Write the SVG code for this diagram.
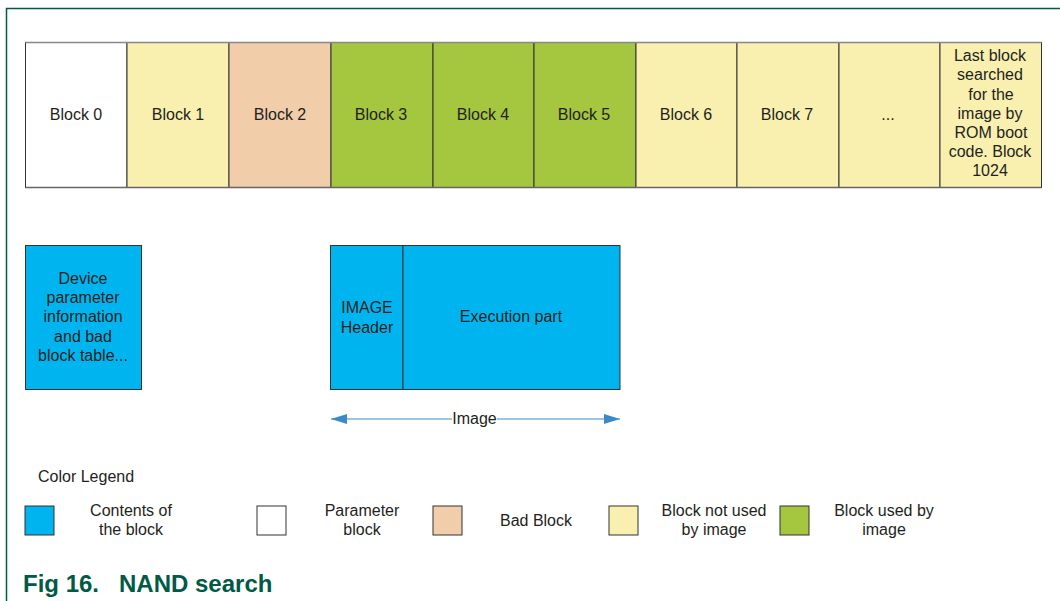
<svg xmlns="http://www.w3.org/2000/svg" width="1060" height="601" viewBox="0 0 1060 601">
<style>
.t{font-family:"Liberation Sans",Arial,sans-serif;font-size:16px;fill:#231f20;text-anchor:middle}
.b{stroke:#333;stroke-width:1}
.w{fill:#ffffff}.y{fill:#f9f0b0}.p{fill:#f2cda9}.g{fill:#a5c63f}.c{fill:#00b5ef}
</style>
<defs>
<marker id="ah" viewBox="0 0 16 10" refX="16" refY="5" markerWidth="16" markerHeight="10" markerUnits="userSpaceOnUse" orient="auto-start-reverse">
<path d="M0,0 L16,5 L0,10 Z" fill="#3a8ac9"/>
</marker>
</defs>
<rect width="1060" height="601" fill="#fff"/>
<path d="M6.5,601 V8.5 H1060" fill="none" stroke="#005a46" stroke-width="1.5"/>
<g id="blocks">
<g id="b0"><rect class="b w" x="25.5" y="42.5" width="101.5" height="145"/><text class="t" x="76" y="120">Block 0</text></g>
<g id="b1"><rect class="b y" x="127" y="42.5" width="102" height="145"/><text class="t" x="178" y="120">Block 1</text></g>
<g id="b2"><rect class="b p" x="229" y="42.5" width="102" height="145"/><text class="t" x="280" y="120">Block 2</text></g>
<g id="b3"><rect class="b g" x="331" y="42.5" width="102" height="145"/><text class="t" x="381" y="120">Block 3</text></g>
<g id="b4"><rect class="b g" x="433" y="42.5" width="101" height="145"/><text class="t" x="483" y="120">Block 4</text></g>
<g id="b5"><rect class="b g" x="534" y="42.5" width="102" height="145"/><text class="t" x="584" y="120">Block 5</text></g>
<g id="b6"><rect class="b y" x="636" y="42.5" width="101" height="145"/><text class="t" x="686" y="120">Block 6</text></g>
<g id="b7"><rect class="b y" x="737" y="42.5" width="102" height="145"/><text class="t" x="787" y="120">Block 7</text></g>
<g id="bdots"><rect class="b y" x="839" y="42.5" width="101" height="145"/><text class="t" x="888" y="120">...</text></g>
<g id="blast"><rect class="b y" x="940" y="42.5" width="101.5" height="145"/>
<text class="t" x="990" y="61">Last block</text>
<text class="t" x="990" y="80">searched</text>
<text class="t" x="991" y="100">for the</text>
<text class="t" x="990" y="119">image by</text>
<text class="t" x="991" y="138">ROM boot</text>
<text class="t" x="990" y="157">code. Block</text>
<text class="t" x="990" y="176">1024</text>
</g>
<path d="M25.5,42.5 H1041.5" stroke="#888" stroke-width="1.5" fill="none"/>
<path d="M25.5,187.5 H1041.5" stroke="#666" stroke-width="1.5" fill="none"/>
</g>
<g id="device"><rect class="b c" x="25.5" y="245.5" width="116" height="144"/>
<text class="t" x="83" y="284">Device</text>
<text class="t" x="83" y="303">parameter</text>
<text class="t" x="83" y="322">information</text>
<text class="t" x="83" y="342">and bad</text>
<text class="t" x="83" y="361">block table...</text>
</g>
<g id="image">
<g id="header"><rect class="b c" x="330.5" y="245.5" width="72.5" height="144"/>
<text class="t" x="367" y="313">IMAGE</text>
<text class="t" x="367" y="333">Header</text></g>
<g id="exec"><rect class="b c" x="403" y="245.5" width="217" height="144"/>
<text class="t" x="511" y="322">Execution part</text></g>
</g>
<g id="connectors">
<path d="M331,419 H452" stroke="#3a8ac9" stroke-width="1.2" fill="none" marker-start="url(#ah)"/>
<path d="M497,419 H620" stroke="#3a8ac9" stroke-width="1.2" fill="none" marker-end="url(#ah)"/>
<text class="t" x="474.5" y="424">Image</text>
</g>
<g id="legend">
<text class="t" x="38" y="482" style="text-anchor:start">Color Legend</text>
<g id="l1"><rect class="b c" x="25" y="506" width="29" height="29"/><text class="t" x="131" y="516">Contents of</text><text class="t" x="131" y="535">the block</text></g>
<g id="l2"><rect class="b w" x="257" y="506" width="29" height="29"/><text class="t" x="362" y="516">Parameter</text><text class="t" x="362" y="535">block</text></g>
<g id="l3"><rect class="b p" x="433" y="506" width="29" height="29"/><text class="t" x="536" y="526">Bad Block</text></g>
<g id="l4"><rect class="b y" x="609" y="506" width="29" height="29"/><text class="t" x="714" y="516">Block not used</text><text class="t" x="714" y="535">by image</text></g>
<g id="l5"><rect class="b g" x="780" y="506" width="29" height="29"/><text class="t" x="884" y="516">Block used by</text><text class="t" x="884" y="535">image</text></g>
</g>
<text x="23" y="592" style="font-family:'Liberation Sans',Arial,sans-serif;font-size:24px;font-weight:bold;fill:#005a46" xml:space="preserve">Fig 16.   NAND search</text>
</svg>
